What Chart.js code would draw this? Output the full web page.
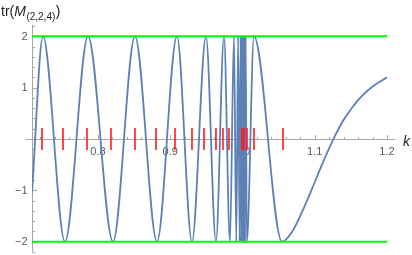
<!DOCTYPE html>
<html>
<head>
<meta charset="utf-8">
<script src="https://cdn.jsdelivr.net/npm/chart.js@4.4.0/dist/chart.umd.min.js"></script>
<style>
  html, body { margin: 0; padding: 0; background: #fff; }
  canvas { display: block; }
</style>
</head>
<body>
<canvas id="trChart" width="412" height="255"></canvas>
<script>
// plot range
const kRange = [0.7087, 1.2];
const trRange = [-2.2, 2.2];

// tr(M): start, extrema, then the tail after the last minimum
const curveK = [
  0.7087, 0.7239, 0.7543, 0.7862, 0.8208, 0.8512, 0.8817, 0.9093, 0.9301,
  0.9495, 0.9633, 0.9744, 0.9827, 0.9882,
  0.9914, 0.9940, 0.9960, 0.9974, 0.9983, 0.9992, 0.9999, 1.0004, 1.0010,
  1.0015, 1.0021, 1.0028, 1.0035, 1.0044, 1.0060,
  1.0159, 1.0547, 1.0685, 1.0824, 1.0962, 1.1100, 1.1239, 1.1377, 1.1516,
  1.1654, 1.1820, 1.2
];
const curveTr = [
  -1.05, 2, -2, 2, -2, 2, -2, 2, -2,
  2, -2, 2, -2, 2,
  -2, 2, -2, 2, -2, 2, -2, 2, -2,
  2, -2, 2, -2, 2, -2,
  2, -2, -1.81, -1.42, -0.97, -0.50, -0.06, 0.32, 0.61,
  0.84, 1.04, 1.2
];

// red marks on the k axis
const bandEdgeK = [
  0.7225, 0.7516, 0.7848, 0.8180, 0.8512, 0.8803, 0.9066, 0.9301, 0.9467,
  0.9633, 0.9730, 0.9813, 0.9993, 1.0021, 1.0062, 1.0159, 1.0561
];

// green horizontal lines
const boundLevels = [2, -2];

// axis ticks
const xMajorTicks = [0.8, 0.9, 1.0, 1.1, 1.2];
const xTickLabels = ['0.8', '0.9', '1.0', '1.1', '1.2'];
const yMajorTicks = [-2, -1, 1, 2];
const yTickLabels = ['\u22122', '\u22121', '1', '2'];
const xMinorStep = 0.02;
const yMinorStep = 0.2;

const FONT = '"Liberation Sans", Arial, sans-serif';

// mathematica style axes crossing at tr = 0
const axesPlugin = {
  id: 'mmaAxes',
  beforeDatasetsDraw(chart) {
    const { ctx, scales: { x, y } } = chart;
    const ax = Math.round(x.getPixelForValue(kRange[0])) + 0.5;
    const ay = Math.round(y.getPixelForValue(0)) + 0.5;
    ctx.save();
    ctx.strokeStyle = '#a6a6a6';
    ctx.lineWidth = 1;

    ctx.beginPath();
    ctx.moveTo(ax - 7, ay);
    ctx.lineTo(x.right + 8, ay);
    ctx.moveTo(ax, y.top - 1);
    ctx.lineTo(ax, y.bottom);
    ctx.stroke();

    // x ticks point up
    ctx.beginPath();
    for (let i = Math.ceil(kRange[0] / xMinorStep - 1e-6); i * xMinorStep <= kRange[1] + 1e-9; i++) {
      const px = Math.round(x.getPixelForValue(i * xMinorStep)) + 0.5;
      const len = i % 5 === 0 ? 4.5 : 2.5;
      ctx.moveTo(px, ay);
      ctx.lineTo(px, ay - len);
    }
    // y ticks point right
    for (let i = Math.ceil(trRange[0] / yMinorStep - 1e-6); i * yMinorStep <= trRange[1] + 1e-9; i++) {
      if (i === 0) continue;
      const py = Math.round(y.getPixelForValue(i * yMinorStep)) + 0.5;
      const len = i % 5 === 0 ? 4.5 : 2.5;
      ctx.moveTo(ax, py);
      ctx.lineTo(ax + len, py);
    }
    ctx.stroke();

    ctx.fillStyle = '#5a5a5a';
    ctx.font = '11px ' + FONT;
    ctx.textAlign = 'center';
    ctx.textBaseline = 'alphabetic';
    xMajorTicks.forEach((v, i) => {
      ctx.fillText(xTickLabels[i], x.getPixelForValue(v), ay + 15.5);
    });
    ctx.textAlign = 'right';
    ctx.textBaseline = 'middle';
    yMajorTicks.forEach((v, i) => {
      ctx.fillText(yTickLabels[i], ax - 5, y.getPixelForValue(v) + 0.5);
    });

    // axis labels
    ctx.fillStyle = '#222';
    ctx.textAlign = 'left';
    ctx.textBaseline = 'alphabetic';
    ctx.font = 'italic 14px ' + FONT;
    ctx.fillText('k', 403, ay + 6);

    let tx = 1;
    ctx.font = '14px ' + FONT;
    ctx.fillText('tr(', tx, 16);
    tx += ctx.measureText('tr(').width;
    ctx.font = 'italic 14px ' + FONT;
    ctx.fillText('M', tx, 16);
    tx += ctx.measureText('M').width + 0.5;
    ctx.font = '10px ' + FONT;
    ctx.fillText('(2,2,4)', tx, 20);
    tx += ctx.measureText('(2,2,4)').width + 0.5;
    ctx.font = '14px ' + FONT;
    ctx.fillText(')', tx, 16);
    ctx.restore();
  }
};

const datasets = [
  {
    label: 'band edges',
    data: bandEdgeK.map(k => ({ x: k, y: 0 })),
    showLine: false,
    pointStyle: 'line',
    pointRotation: 90,
    pointRadius: 11,
    pointBorderColor: '#ff1a1a',
    pointBorderWidth: 1.6,
    order: 0
  },
  ...boundLevels.map(level => ({
    label: 'tr = ' + level,
    data: [{ x: kRange[0], y: level }, { x: kRange[1], y: level }],
    borderColor: '#00ff00',
    borderWidth: 2,
    pointRadius: 0,
    order: 1
  })),
  {
    label: 'tr(M)',
    data: curveK.map((k, i) => ({ x: k, y: curveTr[i] })),
    borderColor: '#5e81b5',
    borderWidth: 1.8,
    pointRadius: 0,
    cubicInterpolationMode: 'monotone',
    order: 2
  }
];

new Chart(document.getElementById('trChart'), {
  type: 'line',
  data: { datasets: datasets },
  options: {
    responsive: false,
    animation: false,
    devicePixelRatio: 1,
    events: [],
    layout: { autoPadding: false, padding: { left: 32, right: 25, top: 26, bottom: 3 } },
    plugins: {
      legend: { display: false },
      tooltip: { enabled: false }
    },
    scales: {
      x: { type: 'linear', min: kRange[0], max: kRange[1], display: false },
      y: { type: 'linear', min: trRange[0], max: trRange[1], display: false }
    }
  },
  plugins: [axesPlugin]
});
</script>
</body>
</html>
